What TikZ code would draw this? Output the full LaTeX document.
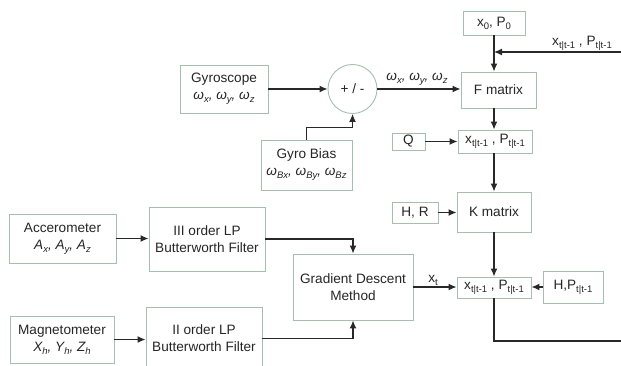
\documentclass[tikz,border=0pt]{standalone}
\usepackage{fontspec}
\setmainfont{Liberation Sans}
\usetikzlibrary{arrows.meta}
\definecolor{boxc}{RGB}{165,190,175}
\definecolor{linec}{RGB}{40,40,40}
\newcommand{\sbx}[1]{\raisebox{-0.22em}{\fontsize{9.5}{10}\selectfont #1}}
\begin{document}
\begin{tikzpicture}[x=1pt,y=-1pt,
  blk/.style={draw=boxc,line width=0.9pt,fill=white,inner sep=0pt,align=center,font=\fontsize{13.6}{17}\selectfont,text=black!85},
  arr/.style={draw=linec,line width=1.3pt,-{Latex[length=8pt,width=7pt]}},
  ln/.style={draw=linec,line width=1.3pt},
  lbl/.style={font=\fontsize{13.6}{17}\selectfont,text=black!85,inner sep=0pt}]
\useasboundingbox (0,0) rectangle (621,366);
\clip (0,0) rectangle (621,366);

\node[blk,minimum width=88pt,minimum height=48pt] (gyro) at (224,89) {Gyroscope\\\textit{ω\sbx{x}, ω\sbx{y}, ω\sbx{z}}};
\node[blk,circle,minimum size=49pt] (sum) at (352.5,89) {+ / -};
\node[blk,minimum width=91pt,minimum height=50pt] (bias) at (306.5,165) {Gyro Bias\\\textit{ω\sbx{Bx}, ω\sbx{By}, ω\sbx{Bz}}};
\node[blk,minimum width=62pt,minimum height=24pt] (x0) at (494,23) {x\sbx{0}, P\sbx{0}};
\node[blk,minimum width=75pt,minimum height=36pt] (F) at (498.5,90) {F matrix};
\node[blk,minimum width=33pt,minimum height=17pt] (Q) at (408.5,141.5) {Q};
\node[blk,minimum width=74pt,minimum height=23pt] (pred) at (495,141.5) {x\sbx{t|t-1} , P\sbx{t|t-1}};
\node[blk,minimum width=46pt,minimum height=21pt] (HR) at (415,212.5) {H, R};
\node[blk,minimum width=74pt,minimum height=40pt] (K) at (494,212) {K matrix};
\node[blk,minimum width=74pt,minimum height=21pt] (upd) at (494,287.5) {x\sbx{t|t-1} , P\sbx{t|t-1}};
\node[blk,minimum width=60pt,minimum height=32pt] (HP) at (573,287) {H,P\sbx{t|t-1}};
\node[blk,minimum width=120pt,minimum height=66pt] (grad) at (353,287) {Gradient Descent\\Method};
\node[blk,minimum width=107pt,minimum height=49pt] (acc) at (62.5,238.5) {Accerometer\\\textit{A\sbx{x}, A\sbx{y}, A\sbx{z}}};
\node[blk,minimum width=116pt,minimum height=64pt] (f3) at (207,239) {III order LP\\Butterworth Filter};
\node[blk,minimum width=104pt,minimum height=47pt] (mag) at (62,339.5) {Magnetometer\\\textit{X\sbx{h}, Y\sbx{h}, Z\sbx{h}}};
\node[blk,minimum width=116pt,minimum height=63pt] (f2) at (204,338.5) {II order LP\\Butterworth Filter};

\coordinate (fbin) at (630,52);
\coordinate (fbout) at (630,341);

\draw[arr] (gyro.east) -- (sum.west);
\draw[arr] (bias.north) -- ++(0,-12) -| (sum.south);
\draw[arr] (sum.east) -- (sum.east -| F.west);
\draw[arr] (x0.south) -- (x0.south |- F.north);
\draw[arr] (fbin) -- (fbin -| x0.south);
\draw[arr] (x0.south |- F.south) -- (x0.south |- pred.north);
\draw[arr] (Q.east) -- (Q.east -| pred.west);
\draw[arr] (x0.south |- pred.south) -- (x0.south |- K.north);
\draw[arr] (HR.east) -- (HR.east -| K.west);
\draw[arr] (K.south) -- (upd.north);
\draw[arr] (HP.west) -- (HP.west -| upd.east);
\draw[arr] (grad.east) -- (grad.east -| upd.west);
\draw[ln] (upd.south) |- (fbout);
\draw[arr] (acc.east) -- (acc.east -| f3.west);
\draw[arr] (f3.east) -| (grad.north);
\draw[arr] (mag.east) -- (mag.east -| f2.west);
\draw[arr] (f2.east) -| (grad.south);

\node[lbl] (wlab) at (417,79) {\textit{ω\sbx{x}, ω\sbx{y}, ω\sbx{z}}};
\node[lbl] (fblab) at (582,43) {x\sbx{t|t-1} , P\sbx{t|t-1}};
\node[lbl] (xt) at (433,280) {x\sbx{t}};
\end{tikzpicture}
\end{document}
